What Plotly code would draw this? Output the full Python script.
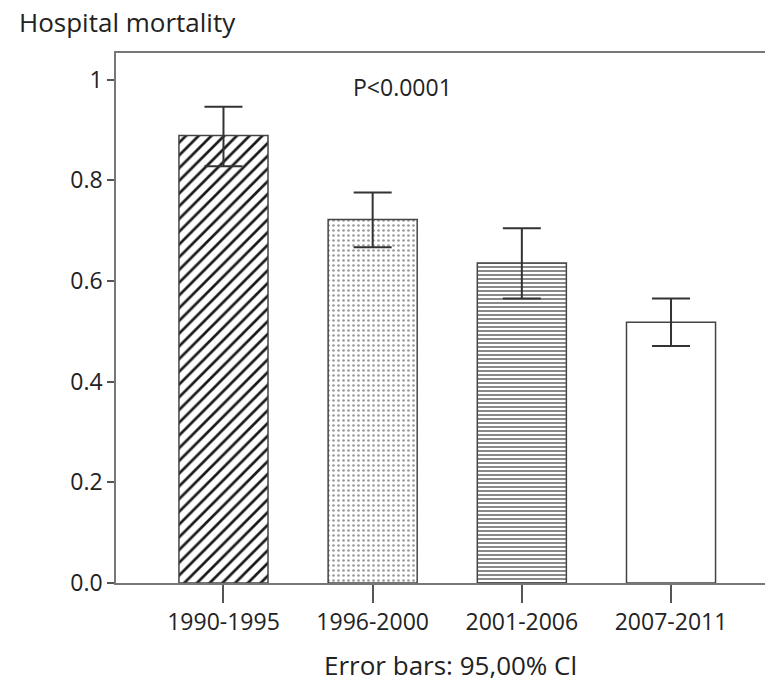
import plotly.graph_objects as go

periods = ["1990-1995", "1996-2000", "2001-2006", "2007-2011"]
mortality = [0.889, 0.722, 0.636, 0.518]
ci_upper = [0.946, 0.776, 0.705, 0.565]
ci_lower = [0.828, 0.667, 0.565, 0.471]
y_tickvals = [0.0, 0.2, 0.4, 0.6, 0.8, 1.0]
y_ticktext = ["0.0", "0.2", "0.4", "0.6", "0.8", "1"]

err_plus = [u - m for u, m in zip(ci_upper, mortality)]
err_minus = [m - l for m, l in zip(mortality, ci_lower)]

shapes = ["/", ".", "-", ""]
pat_size = [9, 5, 4, 8]
pat_sol = [0.3, 0.22, 0.3, 0.3]
pat_fg = ["#1a1a1a", "#9a9a9a", "#3a3a3a", "#333333"]

FONT = "Open Sans"
fig = go.Figure()
fig.add_trace(go.Bar(
    x=periods, y=mortality,
    marker=dict(
        color="white",
        line=dict(color="#444444", width=1.5),
        pattern=dict(shape=shapes, size=pat_size, solidity=pat_sol,
                     fgcolor=pat_fg, bgcolor="white", fgopacity=1, fillmode="overlay"),
    ),
    error_y=dict(type="data", symmetric=False, array=err_plus, arrayminus=err_minus,
                 color="#333333", thickness=2, width=19),
    width=0.597,
    showlegend=False,
))

fig.update_layout(
    width=765, height=684,
    margin=dict(l=116, r=0, t=53, b=101),
    paper_bgcolor="white", plot_bgcolor="white",
    font=dict(family=FONT, size=23, color="#222222"),
    xaxis=dict(range=[-0.7205, 3.63], showline=True, linecolor="#777777", linewidth=1.5,
               mirror=True, ticks="outside", ticklen=18, tickwidth=1.5, tickcolor="#555555",
               showgrid=False, zeroline=False, tickfont=dict(size=23)),
    yaxis=dict(range=[0, 1.053], showline=True, linecolor="#777777", linewidth=1.5,
               mirror=False, ticks="outside", ticklen=7, tickwidth=1.5, tickcolor="#555555",
               tickvals=y_tickvals, ticktext=y_ticktext, showgrid=False, zeroline=False,
               tickfont=dict(size=23)),
    annotations=[
        dict(text="Hospital mortality", xref="paper", yref="paper", x=(17 - 116) / 649, y=1,
             xanchor="left", yanchor="middle", yshift=31, showarrow=False, font=dict(size=26)),
        dict(text="P<0.0001", x=1.203, y=0.985, xref="x", yref="y", xanchor="center",
             yanchor="middle", showarrow=False, font=dict(size=23)),
        dict(text="Error bars: 95,00% Cl", xref="paper", yref="paper", x=(450 - 116) / 649,
             y=0, yshift=-82, xanchor="center", yanchor="middle", showarrow=False,
             font=dict(size=26)),
    ],
)

fig.write_html("out.html")
